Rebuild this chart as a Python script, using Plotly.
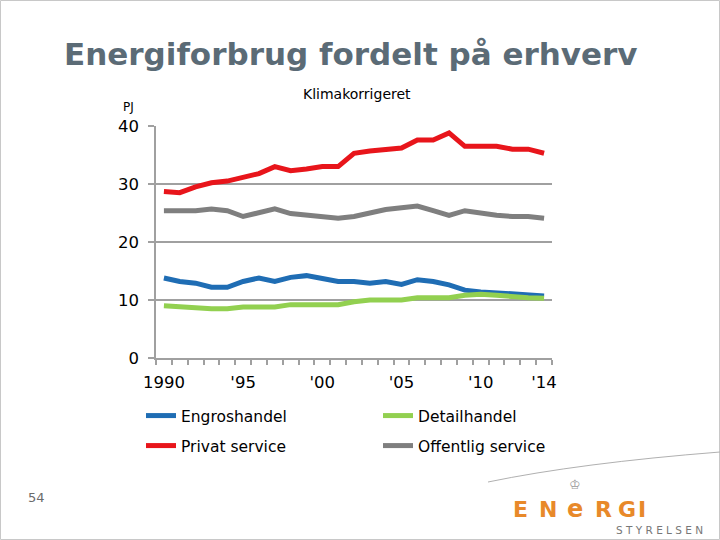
import plotly.graph_objects as go

years = list(range(1990, 2015))
engros = [13.8, 13.2, 12.9, 12.2, 12.2, 13.2, 13.8, 13.2, 13.9, 14.2, 13.7, 13.2, 13.2, 12.9, 13.2,
          12.7, 13.5, 13.2, 12.6, 11.7, 11.4, 11.2, 11.0, 11.0, 10.7]
detail = [9.0, 8.8, 8.8, 8.5, 8.5, 8.8, 8.8, 8.8, 9.2, 9.2, 9.2, 9.2, 9.7, 10.0, 10.0,
          10.0, 10.4, 10.4, 10.4, 10.8, 11.0, 10.8, 10.5, 10.4, 10.3]
privat = [28.7, 28.5, 29.5, 30.2, 30.5, 31.2, 31.8, 33.0, 32.3, 32.6, 33.0, 33.0, 35.3, 35.7, 36.0,
          36.2, 37.6, 37.6, 38.8, 36.5, 36.5, 36.5, 36.0, 36.0, 35.3]
offentlig = [25.4, 25.4, 25.4, 25.7, 25.4, 24.4, 25.1, 25.7, 24.9, 24.6, 24.4, 24.1, 24.4, 25.1, 25.6,
             25.9, 26.2, 25.4, 24.6, 25.4, 24.9, 24.6, 24.4, 24.4, 24.1]
x_tickvals = [1990, 1995, 2000, 2005, 2010, 2014]
x_ticktext = ["1990", "'95", "'00", "'05", "'10", "'14"]
y_tickvals = [0, 10, 20, 30, 40]

W, H = 720, 540
L, R, T, B = 156, 552, 126, 358
def px(x):
    return (x - L) / (R - L)
def py(y):
    return (B - y) / (B - T)

fig = go.Figure()
series = [
    ("Engroshandel", engros, "#1f6db4", "legend"),
    ("Detailhandel", detail, "#92d050", "legend"),
    ("Privat service", privat, "#e8151b", "legend2"),
    ("Offentlig service", offentlig, "#7f7f7f", "legend2"),
]
for name, vals, col, lg in series:
    fig.add_trace(go.Scatter(x=years, y=vals, mode="lines", name=name,
                             line=dict(color=col, width=5), legend=lg))

font_family = "DejaVu Sans"
fig.update_layout(
    width=W, height=H,
    margin=dict(l=L, r=W - R, t=T, b=H - B),
    paper_bgcolor="white", plot_bgcolor="white",
    font=dict(family=font_family, color="black"),
    showlegend=True,
    legend=dict(orientation="h", x=px(141), y=py(399), xanchor="left", yanchor="top",
                font=dict(size=15.5, family=font_family), entrywidth=192, bgcolor="rgba(0,0,0,0)",
                traceorder="normal"),
    legend2=dict(orientation="h", x=px(141), y=py(429), xanchor="left", yanchor="top",
                 font=dict(size=15.5, family=font_family), entrywidth=192, bgcolor="rgba(0,0,0,0)",
                 traceorder="normal"),
    xaxis=dict(range=[1989.5, 2014.5], tickvals=x_tickvals, ticktext=x_ticktext,
               ticks="", showgrid=False, zeroline=False,
               showline=True, linecolor="#a0a0a0", linewidth=1.5,
               tickfont=dict(size=16.5, family=font_family, color="black"),
               ticklabelstandoff=8,
               minor=dict(tickmode="linear", tick0=1989.5, dtick=1, ticks="outside",
                          ticklen=5, tickcolor="#a0a0a0", tickwidth=1.5, showgrid=False)),
    yaxis=dict(range=[0, 40], tickvals=y_tickvals, ticks="outside", ticklen=6,
               tickcolor="#a0a0a0", tickwidth=1.5,
               showgrid=True, gridcolor="#a0a0a0", gridwidth=1.5, zeroline=False,
               showline=True, linecolor="#a0a0a0", linewidth=1.5,
               tickfont=dict(size=16.5, family=font_family, color="black"),
               ticklabelstandoff=6),
)

ann = [
    dict(text="<b>Energiforbrug fordelt på erhverv</b>", x=px(351), y=py(54),
         font=dict(size=31, color="#5b6b76", family="DejaVu Sans")),
    dict(text="Klimakorrigeret", x=px(357), y=py(94), font=dict(size=14, color="black")),
    dict(text="PJ", x=px(128), y=py(107), font=dict(size=12, color="black")),
    dict(text="54", x=px(36), y=py(497), font=dict(size=13, color="#6b6b6b")),
    dict(text="S T Y R E L S E N", x=px(659), y=py(530), font=dict(size=10.5, color="#777777")),
]
logo_letters = ["E", "N", "e", "R", "G", "I"]
logo_x = [520, 548, 575, 603, 627, 642]
for ch, xx in zip(logo_letters, logo_x):
    ann.append(dict(text="<b>" + ch + "</b>", x=px(xx), y=py(509),
                    font=dict(size=22 if ch != "e" else 24, color="#e8892a", family="DejaVu Sans")))
ann.append(dict(text="♔", x=px(575), y=py(484), font=dict(size=13, color="#999999")))
for a in ann:
    a.update(xref="paper", yref="paper", showarrow=False, xanchor="center", yanchor="middle")
fig.update_layout(annotations=ann)

fig.add_shape(type="path", xref="paper", yref="paper",
              path=f"M {px(488)},{py(482)} Q {px(580)},{py(463)} {px(720)},{py(452)}",
              line=dict(color="#b0b0b0", width=1))
fig.add_shape(type="rect", xref="paper", yref="paper",
              x0=px(0.5), x1=px(719.5), y0=py(0.5), y1=py(539.5),
              line=dict(color="#c8c8c8", width=1), layer="below")

fig.write_html("out.html")
